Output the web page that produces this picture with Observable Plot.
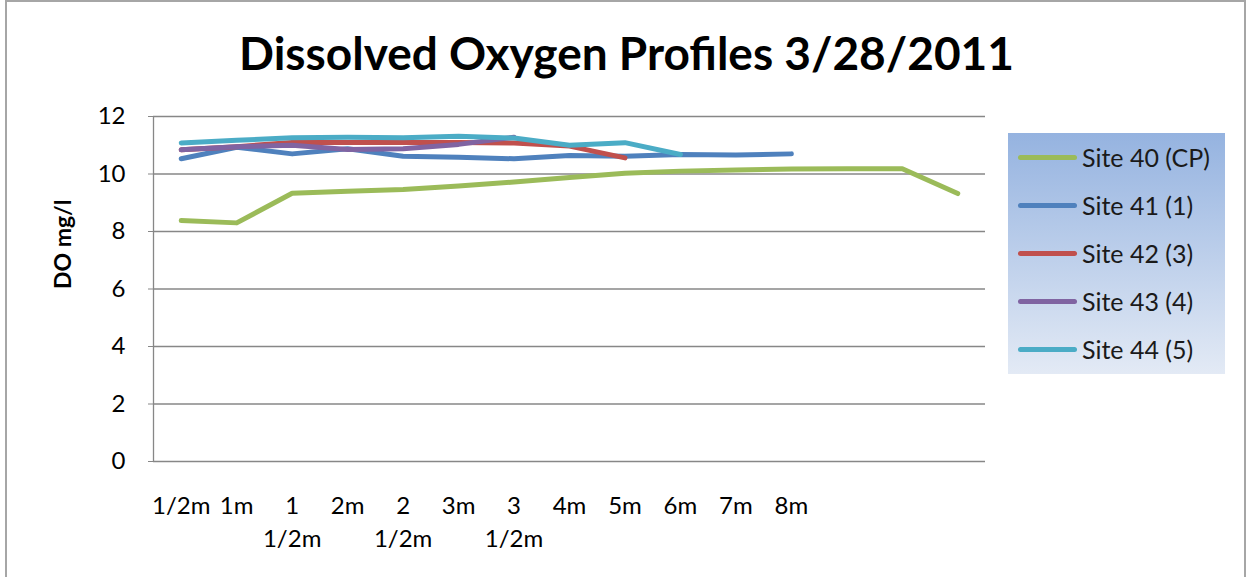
<!DOCTYPE html>
<html><head><meta charset="utf-8">
<script src="https://cdn.jsdelivr.net/npm/d3@7"></script>
<script src="https://cdn.jsdelivr.net/npm/@observablehq/plot@0.6"></script>
<style>
body{margin:0;background:#fff;font-family:Lato,sans-serif}
#wrap{position:relative;width:1249px;height:577px;overflow:hidden;background:#fff}
#border{position:absolute;left:5px;top:0;width:1241px;height:620px;border:2px solid #a6a6a6;box-sizing:border-box;pointer-events:none}
#chart{position:absolute;left:0;top:0}
#legend{position:absolute;left:1008px;top:133px;width:217px;height:241px;background:linear-gradient(#95b3e0,#e3eaf5)}
.item{position:absolute;left:0;height:0}
.swatch{position:absolute;left:10px;width:59px;height:5px;border-radius:3px;top:-2.5px}
.lab{position:absolute;left:74px;top:-15px;font-size:25px;line-height:30px;white-space:nowrap;color:#1a1a1a}
</style></head>
<body>
<div id="wrap"><div id="chart"></div><div id="legend"></div><div id="border"></div></div>
<script>
const title = "Dissolved Oxygen Profiles 3/28/2011";
const yLabel = "DO mg/l";
const depthLabels = ["1/2m","1m","1\n1/2m","2m","2\n1/2m","3m","3\n1/2m","4m","5m","6m","7m","8m","","",""];
const yTicks = [0, 2, 4, 6, 8, 10, 12];
const seriesNames = ["Site 40 (CP)", "Site 41 (1)", "Site 42 (3)", "Site 43 (4)", "Site 44 (5)"];
const seriesColors = ["#9bbb59", "#4f81bd", "#c0504d", "#8064a2", "#4bacc6"];
const site40 = [8.38, 8.3, 9.33, 9.4, 9.46, 9.58, 9.72, 9.88, 10.03, 10.1, 10.14, 10.17, 10.18, 10.18, 9.32];
const site41 = [10.53, 10.93, 10.7, 10.88, 10.62, 10.58, 10.53, 10.64, 10.62, 10.68, 10.66, 10.7];
const site42 = [10.84, 10.95, 11.1, 11.1, 11.1, 11.1, 11.08, 10.97, 10.56];
const site43 = [10.84, 10.95, 11.0, 10.85, 10.88, 11.03, 11.28];
const site44 = [11.08, 11.17, 11.26, 11.28, 11.26, 11.31, 11.25, 11.0, 11.09, 10.68];

const seriesValues = [site40, site41, site42, site43, site44];
const rows = seriesValues.flatMap((vals, s) => vals.map((v, i) => ({series: seriesNames[s], i, v})));
const idx = depthLabels.map((_, i) => i);

const chart = Plot.plot({
  width: 1249, height: 577,
  marginTop: 116, marginBottom: 116, marginLeft: 153, marginRight: 264,
  style: {fontFamily: "Lato, sans-serif", color: "#000", background: "transparent"},
  x: {type: "linear", domain: [-0.5, depthLabels.length - 0.5], axis: null},
  y: {domain: [0, 12], axis: null},
  color: {domain: seriesNames, range: seriesColors},
  marks: [
    Plot.ruleY(yTicks, {stroke: "#878787", strokeWidth: 1.3}),
    Plot.ruleX([-0.5], {stroke: "#878787", strokeWidth: 1.3}),
    Plot.axisY({ticks: yTicks, tickSize: 5, tickPadding: 23, fontSize: 24, label: null, stroke: "#878787"}),
    Plot.text([yLabel], {frameAnchor: "left", dx: -90, rotate: -90, fontWeight: "bold", fontSize: 23}),
    Plot.text(idx, {x: d => d, text: d => depthLabels[d], frameAnchor: "bottom", lineAnchor: "top", dy: 29, lineHeight: 1.375, fontSize: 24}),
    Plot.lineY(rows, {x: "i", y: "v", z: "series", stroke: "series", strokeWidth: 5, strokeLinecap: "round", strokeLinejoin: "round"}),
    Plot.text([title], {frameAnchor: "top", dx: 57, dy: -47, lineAnchor: "bottom", fontWeight: "bold", fontSize: 46})
  ]
});
document.getElementById("chart").appendChild(chart);

const legend = document.getElementById("legend");
seriesNames.forEach((name, k) => {
  const item = document.createElement("div");
  item.className = "item";
  item.style.top = (24 + k * 48) + "px";
  const sw = document.createElement("div");
  sw.className = "swatch";
  sw.style.background = seriesColors[k];
  const lab = document.createElement("div");
  lab.className = "lab";
  lab.textContent = name;
  item.appendChild(sw); item.appendChild(lab);
  legend.appendChild(item);
});
</script>
</body></html>
